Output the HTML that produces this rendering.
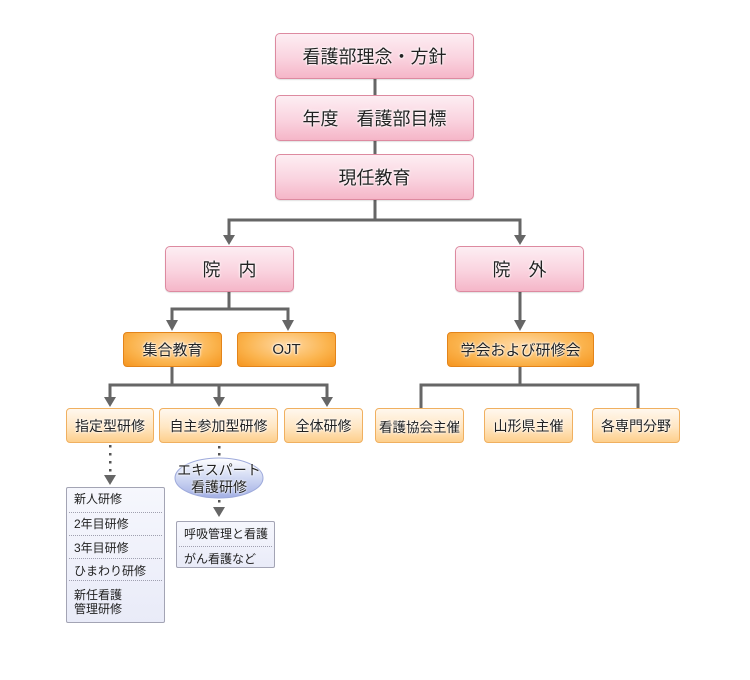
<!DOCTYPE html>
<html><head><meta charset="utf-8">
<style>
html,body{margin:0;padding:0;background:#fff;}
body{width:750px;height:680px;position:relative;overflow:hidden;font-family:"Liberation Sans","Noto Sans CJK JP",sans-serif;color:#222;}
.b{position:absolute;box-sizing:border-box;display:flex;align-items:center;justify-content:center;white-space:nowrap;text-shadow:0 0 2px #fff,0 0 3px #fff,0 0 1px #fff;border-radius:5px;}
.pk{background:linear-gradient(#fdeef3,#fad3df 55%,#f5b6c8);border:1px solid #dd8aa0;font-size:18px;box-shadow:0 1px 1px rgba(0,0,0,.12);}
.or{background:radial-gradient(ellipse at 50% 35%,#ffd9a4 0%,#fbb44e 60%,#f5951f 100%);border:1px solid #e3841a;font-size:15px;border-radius:4px;}
.lo{background:linear-gradient(#fff8ee,#ffe6c2 55%,#fdcf8c);border:1px solid #f0b060;font-size:14px;border-radius:4px;}
.lst{position:absolute;box-sizing:border-box;background:linear-gradient(#f6f7fd,#e9ebf8);border:1px solid #a3a4b4;border-radius:2px;font-size:12px;color:#222;}
.t{position:absolute;left:7px;white-space:nowrap;line-height:14px;}
.sep{position:absolute;left:2px;right:2px;height:0;border-top:1px dotted #a0a0b0;}
svg{position:absolute;left:0;top:0;}
</style></head><body>
<svg width="750" height="680" viewBox="0 0 750 680">
<g stroke="#666" stroke-width="3" fill="none">
<line x1="375" y1="79" x2="375" y2="95"/>
<line x1="375" y1="141" x2="375" y2="154"/>
<line x1="375" y1="200" x2="375" y2="220"/>
<polyline points="229,236 229,220 520,220 520,236"/>
<line x1="229" y1="292" x2="229" y2="309"/>
<polyline points="172,321 172,309 288,309 288,321"/>
<line x1="520" y1="292" x2="520" y2="321"/>
<line x1="172" y1="367" x2="172" y2="385"/>
<polyline points="110,398 110,385 327,385 327,398"/>
<line x1="219" y1="385" x2="219" y2="398"/>
<line x1="520" y1="367" x2="520" y2="385"/>
<polyline points="421,408 421,385 638,385 638,408"/>
</g>
<g fill="#666">
<polygon points="223,235 235,235 229,245"/>
<polygon points="514,235 526,235 520,245"/>
<polygon points="166,320 178,320 172,331"/>
<polygon points="282,320 294,320 288,331"/>
<polygon points="514,320 526,320 520,331"/>
<polygon points="104,397 116,397 110,407"/>
<polygon points="213,397 225,397 219,407"/>
<polygon points="321,397 333,397 327,407"/>
<polygon points="104,475 116,475 110,485"/>
<polygon points="213,507 225,507 219,517"/>
</g>
<g fill="#555">
<rect x="109" y="445" width="2.5" height="2.5"/>
<rect x="109" y="453" width="2.5" height="2.5"/>
<rect x="109" y="461" width="2.5" height="2.5"/>
<rect x="109" y="469" width="2.5" height="2.5"/>
<rect x="218" y="446" width="2.5" height="2.5"/>
<rect x="218" y="453" width="2.5" height="2.5"/>
<rect x="218" y="500" width="2.5" height="2.5"/>
</g>
<defs>
<linearGradient id="eg" x1="0" y1="0" x2="0" y2="1">
<stop offset="0" stop-color="#ffffff"/>
<stop offset="0.5" stop-color="#d0d8f3"/>
<stop offset="1" stop-color="#a2afe4"/>
</linearGradient>
</defs>
<ellipse cx="219" cy="478" rx="44" ry="20" fill="url(#eg)" stroke="#9eaadb" stroke-width="1"/>
</svg>

<div class="b pk" style="left:275px;top:33px;width:199px;height:46px;">看護部理念・方針</div>
<div class="b pk" style="left:275px;top:95px;width:199px;height:46px;">年度　看護部目標</div>
<div class="b pk" style="left:275px;top:154px;width:199px;height:46px;">現任教育</div>
<div class="b pk" style="left:165px;top:246px;width:129px;height:46px;">院　内</div>
<div class="b pk" style="left:455px;top:246px;width:129px;height:46px;">院　外</div>

<div class="b or" style="left:123px;top:332px;width:99px;height:35px;">集合教育</div>
<div class="b or" style="left:237px;top:332px;width:99px;height:35px;">OJT</div>
<div class="b or" style="left:447px;top:332px;width:147px;height:35px;">学会および研修会</div>

<div class="b lo" style="left:66px;top:408px;width:88px;height:35px;">指定型研修</div>
<div class="b lo" style="left:159px;top:408px;width:119px;height:35px;">自主参加型研修</div>
<div class="b lo" style="left:284px;top:408px;width:79px;height:35px;">全体研修</div>
<div class="b lo" style="left:375px;top:408px;width:89px;height:35px;font-size:13.5px;">看護協会主催</div>
<div class="b lo" style="left:484px;top:408px;width:89px;height:35px;">山形県主催</div>
<div class="b lo" style="left:592px;top:408px;width:88px;height:35px;">各専門分野</div>

<div style="position:absolute;left:175px;top:462px;width:88px;text-align:center;font-size:14px;line-height:17px;color:#222;text-shadow:0 0 2px #fff,0 0 2px #fff;white-space:nowrap;">エキスパート<br>看護研修</div>

<div class="lst" style="left:66px;top:487px;width:99px;height:136px;">
<div class="t" style="top:4px;">新人研修</div>
<div class="sep" style="top:24px;"></div>
<div class="t" style="top:29px;">2年目研修</div>
<div class="sep" style="top:47px;"></div>
<div class="t" style="top:53px;">3年目研修</div>
<div class="sep" style="top:70px;"></div>
<div class="t" style="top:76px;">ひまわり研修</div>
<div class="sep" style="top:92px;"></div>
<div class="t" style="top:100px;">新任看護</div>
<div class="t" style="top:114px;">管理研修</div>
</div>

<div class="lst" style="left:176px;top:521px;width:99px;height:47px;">
<div class="t" style="top:5px;">呼吸管理と看護</div>
<div class="sep" style="top:24px;"></div>
<div class="t" style="top:30px;">がん看護など</div>
</div>
</body></html>
